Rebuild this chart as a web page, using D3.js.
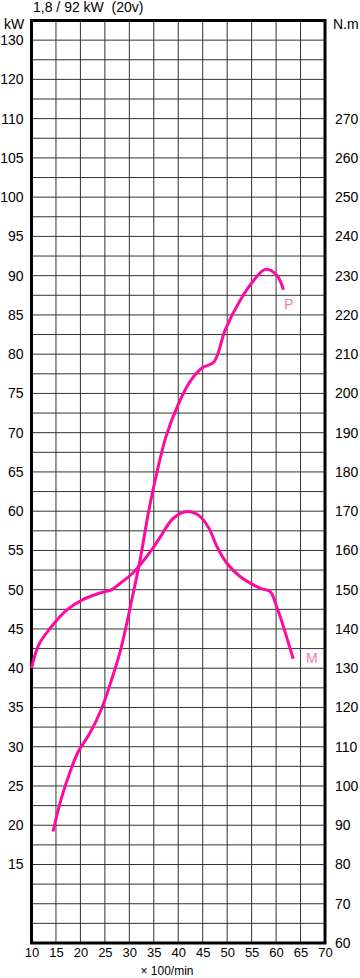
<!DOCTYPE html>
<html>
<head>
<meta charset="utf-8">
<script src="https://cdn.jsdelivr.net/npm/d3@7"></script>
<style>
  body { margin: 0; background: #fff; }
  svg text { font-family: "Liberation Sans", Arial, sans-serif; fill: #000; }
</style>
</head>
<body>
<svg id="chart" width="360" height="978"></svg>
<script>
// engine speed (x 100/min) and readings taken off the curves
var rpmPower = [14.4, 16, 18, 19.5, 22, 24.3, 26.2, 28.2, 30.5, 32.2, 33.9, 35.3, 37.5, 40, 42.5, 45, 47.3, 49.6, 52.7, 55.7, 57.8, 60.1, 61.5];
var kwPower  = [19.2, 23.2, 27, 29.3, 31.8, 34.8, 38.2, 42.3, 48.7, 53.8, 59.8, 64, 69.5, 73.6, 76.6, 78.3, 79, 83.1, 86.9, 89.6, 90.8, 90.1, 88.2];

var rpmTorque = [10, 11.5, 13.9, 17.3, 20.7, 24.1, 26.5, 28.2, 30.5, 32.3, 34.5, 36.4, 39, 41.8, 44.3, 46.3, 47.9, 49.9, 52.7, 56.7, 58.8, 60.1, 61.5, 63.5];
var nmTorque  = [130, 136, 140.3, 144.9, 147.6, 149.2, 150.1, 151.7, 154, 156.5, 160, 163.6, 168.2, 169.9, 168.8, 165.6, 161, 156.8, 153.3, 150.4, 149.5, 145.7, 140.6, 132.4];

var rpmTicks = [10, 15, 20, 25, 30, 35, 40, 45, 50, 55, 60, 65, 70];
var kwTicks = [15, 20, 25, 30, 35, 40, 45, 50, 55, 60, 65, 70, 75, 80, 85, 90, 95, 100, 105, 110, 120, 130];
var nmTicks = [60, 70, 80, 90, 100, 110, 120, 130, 140, 150, 160, 170, 180, 190, 200, 210, 220, 230, 240, 250, 260, 270];

var plotLeft = 31.5, plotRight = 325, plotTop = 20.5, plotBottom = 943;
var curveColor = "#ff0aa0", labelColor = "#f772bf";

var svg = d3.select("#chart");

var x = d3.scaleLinear().domain([10, 70]).range([plotLeft, plotRight]);
var yNm = d3.scaleLinear().domain([60, 295]).range([plotBottom, plotTop]);
// kW labels above 110 are spaced 10 kW per 2 rows on the original sheet
var yKw = d3.scaleLinear().domain([5, 110, 135]).range([plotBottom, yNm(270), plotTop]);

// grid
svg.append("g")
  .selectAll("line")
  .data(d3.range(65, 295, 5))
  .enter().append("line")
    .attr("x1", plotLeft).attr("x2", plotRight)
    .attr("y1", function(d) { return yNm(d); })
    .attr("y2", function(d) { return yNm(d); })
    .attr("stroke", "#333").attr("stroke-width", 1);

svg.append("g")
  .selectAll("line")
  .data(d3.range(15, 70, 5))
  .enter().append("line")
    .attr("y1", plotTop).attr("y2", plotBottom)
    .attr("x1", function(d) { return x(d); })
    .attr("x2", function(d) { return x(d); })
    .attr("stroke", "#333").attr("stroke-width", 1);

// frame
svg.append("rect")
  .attr("x", plotLeft).attr("y", plotTop)
  .attr("width", plotRight - plotLeft).attr("height", plotBottom - plotTop)
  .attr("fill", "none").attr("stroke", "#000").attr("stroke-width", 3);

// axes
var axisLeft = svg.append("g")
  .attr("transform", "translate(" + plotLeft + ",0)")
  .call(d3.axisLeft(yKw).tickValues(kwTicks).tickSize(0).tickPadding(8));

var axisRight = svg.append("g")
  .attr("transform", "translate(" + plotRight + ",0)")
  .call(d3.axisRight(yNm).tickValues(nmTicks).tickSize(0).tickPadding(10));

var axisBottom = svg.append("g")
  .attr("transform", "translate(0," + plotBottom + ")")
  .call(d3.axisBottom(x).tickValues(rpmTicks).tickSize(0).tickPadding(5));

[axisLeft, axisRight, axisBottom].forEach(function(g) {
  g.select(".domain").remove();
  g.selectAll("text").attr("font-size", 14).attr("fill", "#000")
    .style("font-family", "'Liberation Sans', Arial, sans-serif");
});
axisBottom.selectAll("text").attr("font-size", 13);

// curves
var line = d3.line().curve(d3.curveCatmullRom.alpha(0.5));

svg.append("path")
  .attr("d", line(rpmTorque.map(function(r, i) { return [x(r), yNm(nmTorque[i])]; })))
  .attr("fill", "none").attr("stroke", curveColor).attr("stroke-width", 3);

svg.append("path")
  .attr("d", line(rpmPower.map(function(r, i) { return [x(r), yKw(kwPower[i])]; })))
  .attr("fill", "none").attr("stroke", curveColor).attr("stroke-width", 3);

// texts
svg.append("text").attr("x", 33).attr("y", 12).attr("font-size", 14)
  .style("white-space", "pre").text("1,8 / 92 kW  (20v)");
svg.append("text").attr("x", 4).attr("y", 29).attr("font-size", 14).text("kW");
svg.append("text").attr("x", 333).attr("y", 29).attr("font-size", 14).text("N.m");
svg.append("text").attr("x", 167).attr("y", 975).attr("font-size", 12)
  .attr("text-anchor", "middle").text("× 100/min");

svg.append("text").attr("x", 284).attr("y", 309).attr("font-size", 14)
  .style("fill", labelColor).text("P");
svg.append("text").attr("x", 306).attr("y", 663).attr("font-size", 14)
  .style("fill", labelColor).text("M");
</script>
</body>
</html>
